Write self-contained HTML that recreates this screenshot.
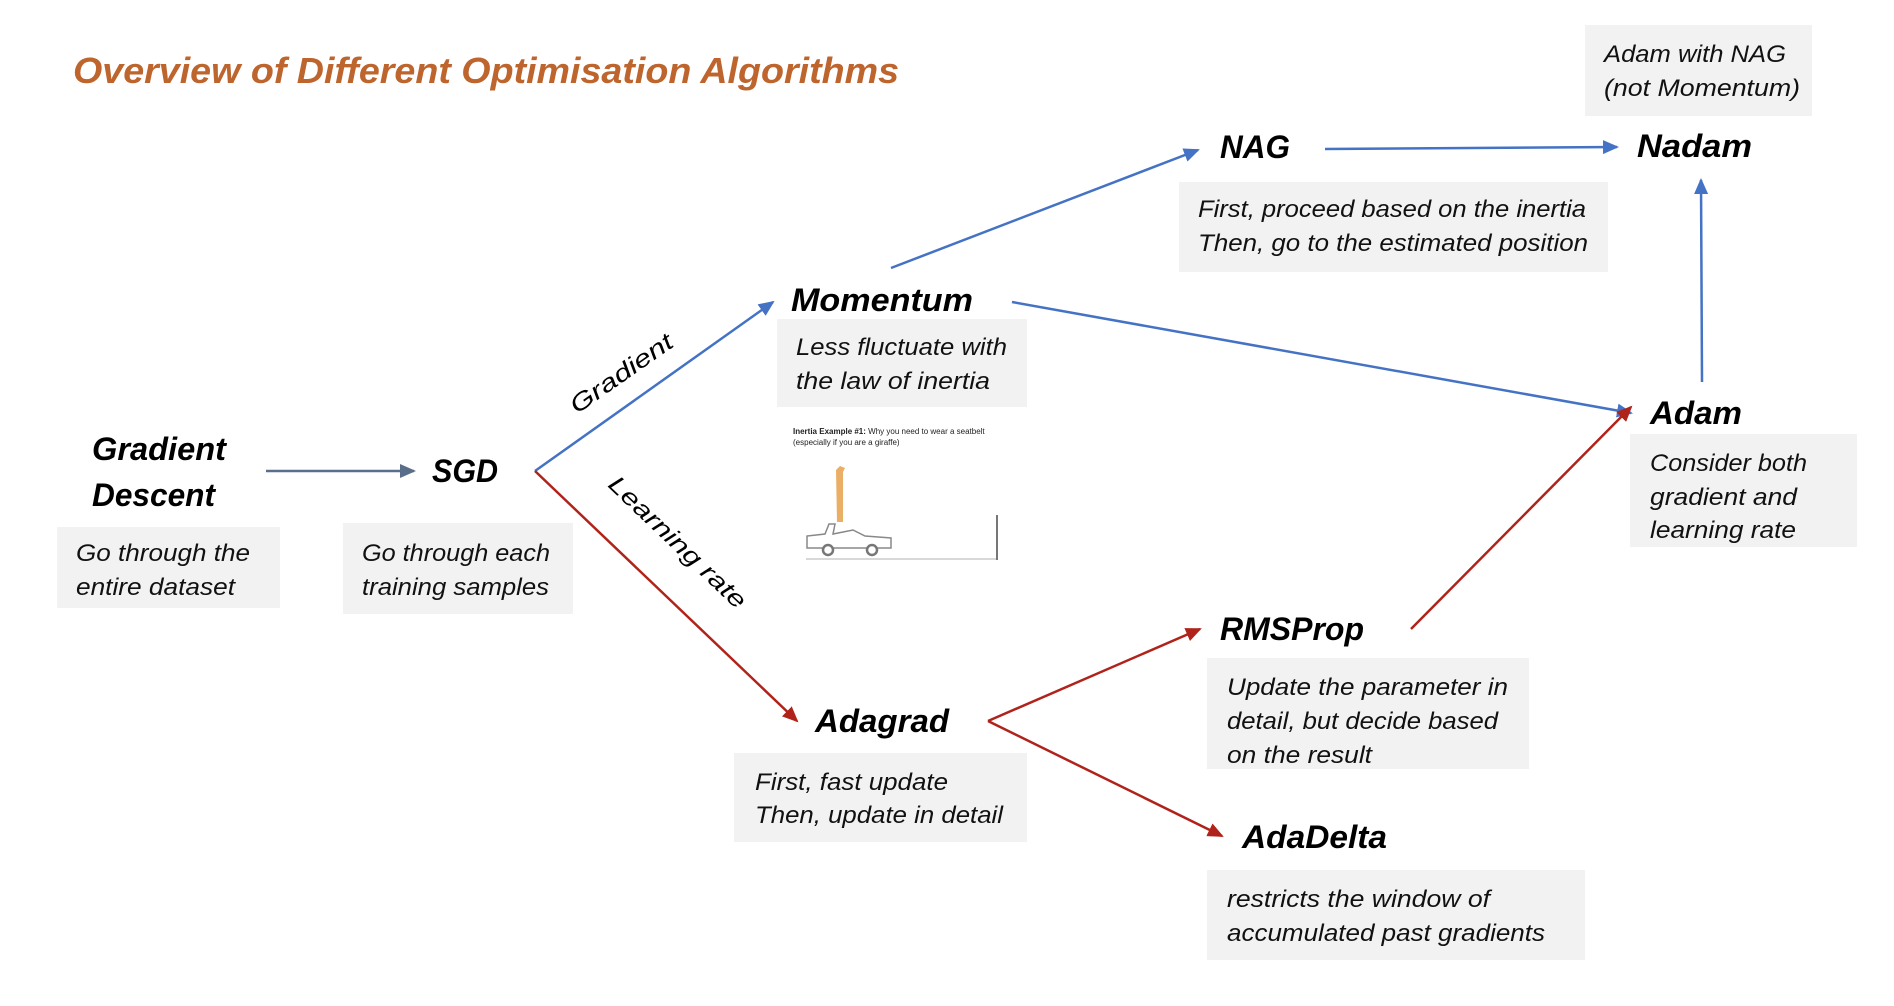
<!DOCTYPE html>
<html><head><meta charset="utf-8"><style>
html,body{margin:0;padding:0;background:#fff;width:1894px;height:1006px;overflow:hidden}
svg{display:block}
.t{font-family:"Liberation Sans",sans-serif;font-style:italic;font-weight:bold;font-size:32px;fill:#000}
.b{font-family:"Liberation Sans",sans-serif;font-style:italic;font-size:24px;fill:#111}
.box{fill:#f2f2f2}
</style></head><body>
<svg width="1894" height="1006" viewBox="0 0 1894 1006" xmlns="http://www.w3.org/2000/svg">
<defs>
<marker id="ab" markerWidth="16" markerHeight="14" refX="14" refY="7" orient="auto" markerUnits="userSpaceOnUse" viewBox="0 0 16 14"><path d="M0,0 L16,7 L0,14 z" fill="#4472C4"/></marker>
<marker id="ar" markerWidth="16" markerHeight="14" refX="14" refY="7" orient="auto" markerUnits="userSpaceOnUse" viewBox="0 0 16 14"><path d="M0,0 L16,7 L0,14 z" fill="#B0231A"/></marker>
<marker id="ag" markerWidth="16" markerHeight="14" refX="14" refY="7" orient="auto" markerUnits="userSpaceOnUse" viewBox="0 0 16 14"><path d="M0,0 L16,7 L0,14 z" fill="#5A6E8C"/></marker>
</defs>
<rect width="1894" height="1006" fill="#fff"/>
<text x="73" y="83" font-family="Liberation Sans,sans-serif" font-style="italic" font-weight="bold" font-size="36" fill="#BE642D" textLength="826" lengthAdjust="spacingAndGlyphs">Overview of Different Optimisation Algorithms</text>

<rect class="box" x="57" y="527" width="223" height="81"/>
<rect class="box" x="343" y="523" width="230" height="91"/>
<rect class="box" x="777" y="319" width="250" height="88"/>
<rect class="box" x="1179" y="182" width="429" height="90"/>
<rect class="box" x="1585" y="25" width="227" height="91"/>
<rect class="box" x="1630" y="434" width="227" height="113"/>
<rect class="box" x="734" y="753" width="293" height="89"/>
<rect class="box" x="1207" y="658" width="322" height="111"/>
<rect class="box" x="1207" y="870" width="378" height="90"/>

<g fill="none" stroke-width="2.5">
<line x1="266" y1="471" x2="414" y2="471" stroke="#5A6E8C" marker-end="url(#ag)"/>
<line x1="535" y1="471" x2="773" y2="302" stroke="#4472C4" marker-end="url(#ab)"/>
<line x1="535" y1="471" x2="797" y2="721" stroke="#B0231A" marker-end="url(#ar)"/>
<line x1="891" y1="268" x2="1198" y2="150" stroke="#4472C4" marker-end="url(#ab)"/>
<line x1="1325" y1="149" x2="1617" y2="147" stroke="#4472C4" marker-end="url(#ab)"/>
<line x1="1702" y1="382" x2="1701" y2="180" stroke="#4472C4" marker-end="url(#ab)"/>
<line x1="1012" y1="302" x2="1631" y2="413" stroke="#4472C4" marker-end="url(#ab)"/>
<line x1="1411" y1="629" x2="1631" y2="407" stroke="#B0231A" marker-end="url(#ar)"/>
<line x1="988" y1="721" x2="1200" y2="629" stroke="#B0231A" marker-end="url(#ar)"/>
<line x1="988" y1="721" x2="1222" y2="836" stroke="#B0231A" marker-end="url(#ar)"/>
</g>

<text transform="translate(626,380) rotate(-35)" text-anchor="middle" font-family="Liberation Sans,sans-serif" font-style="italic" font-size="24" textLength="120" lengthAdjust="spacingAndGlyphs">Gradient</text>
<text transform="translate(672,548) rotate(43.6)" text-anchor="middle" font-family="Liberation Sans,sans-serif" font-style="italic" font-size="24" textLength="180" lengthAdjust="spacingAndGlyphs">Learning rate</text>

<text class="t" x="92" y="460" textLength="134" lengthAdjust="spacingAndGlyphs">Gradient</text>
<text class="t" x="92" y="506" textLength="123" lengthAdjust="spacingAndGlyphs">Descent</text>
<text class="t" x="432" y="482" textLength="66" lengthAdjust="spacingAndGlyphs">SGD</text>
<text class="t" x="791" y="311" textLength="182" lengthAdjust="spacingAndGlyphs">Momentum</text>
<text class="t" x="1220" y="158" textLength="70" lengthAdjust="spacingAndGlyphs">NAG</text>
<text class="t" x="1637" y="157" textLength="115" lengthAdjust="spacingAndGlyphs">Nadam</text>
<text class="t" x="1650" y="424" textLength="92" lengthAdjust="spacingAndGlyphs">Adam</text>
<text class="t" x="815" y="732" textLength="134" lengthAdjust="spacingAndGlyphs">Adagrad</text>
<text class="t" x="1220" y="640" textLength="144" lengthAdjust="spacingAndGlyphs">RMSProp</text>
<text class="t" x="1242" y="848" textLength="145" lengthAdjust="spacingAndGlyphs">AdaDelta</text>

<text class="b" x="76" y="561" textLength="174" lengthAdjust="spacingAndGlyphs">Go through the</text>
<text class="b" x="76" y="595" textLength="159" lengthAdjust="spacingAndGlyphs">entire dataset</text>
<text class="b" x="362" y="561" textLength="188" lengthAdjust="spacingAndGlyphs">Go through each</text>
<text class="b" x="362" y="595" textLength="187" lengthAdjust="spacingAndGlyphs">training samples</text>
<text class="b" x="796" y="355" textLength="211" lengthAdjust="spacingAndGlyphs">Less fluctuate with</text>
<text class="b" x="796" y="389" textLength="194" lengthAdjust="spacingAndGlyphs">the law of inertia</text>
<text class="b" x="1198" y="217" textLength="388" lengthAdjust="spacingAndGlyphs">First, proceed based on the inertia</text>
<text class="b" x="1198" y="251" textLength="390" lengthAdjust="spacingAndGlyphs">Then, go to the estimated position</text>
<text class="b" x="1604" y="62" textLength="182" lengthAdjust="spacingAndGlyphs">Adam with NAG</text>
<text class="b" x="1604" y="96" textLength="196" lengthAdjust="spacingAndGlyphs">(not Momentum)</text>
<text class="b" x="1650" y="471" textLength="157" lengthAdjust="spacingAndGlyphs">Consider both</text>
<text class="b" x="1650" y="505" textLength="147" lengthAdjust="spacingAndGlyphs">gradient and</text>
<text class="b" x="1650" y="538" textLength="146" lengthAdjust="spacingAndGlyphs">learning rate</text>
<text class="b" x="755" y="790" textLength="193" lengthAdjust="spacingAndGlyphs">First, fast update</text>
<text class="b" x="755" y="823" textLength="248" lengthAdjust="spacingAndGlyphs">Then, update in detail</text>
<text class="b" x="1227" y="695" textLength="281" lengthAdjust="spacingAndGlyphs">Update the parameter in</text>
<text class="b" x="1227" y="729" textLength="271" lengthAdjust="spacingAndGlyphs">detail, but decide based</text>
<text class="b" x="1227" y="763" textLength="145" lengthAdjust="spacingAndGlyphs">on the result</text>
<text class="b" x="1227" y="907" textLength="263" lengthAdjust="spacingAndGlyphs">restricts the window of</text>
<text class="b" x="1227" y="941" textLength="318" lengthAdjust="spacingAndGlyphs">accumulated past gradients</text>

<g>
<text x="793" y="434" font-family="Liberation Sans,sans-serif" font-size="8" fill="#222"><tspan font-weight="bold">Inertia Example #1:</tspan> Why you need to wear a seatbelt</text>
<text x="793" y="445" font-family="Liberation Sans,sans-serif" font-size="8" fill="#222">(especially if you are a giraffe)</text>
<path d="M836,470 l4,-4 l5,2 l-2,4 l0,50 l-6,0 z" fill="#E8A04A" opacity="0.85"/>
<path d="M807,548 l0,-12 l18,-2 l4,-10 l6,0 l-2,10 l20,-4 l12,6 l26,2 l0,10 z" fill="#fff" stroke="#888" stroke-width="1.5"/>
<circle cx="828" cy="550" r="5" fill="#fff" stroke="#777" stroke-width="2.5"/>
<circle cx="872" cy="550" r="5" fill="#fff" stroke="#777" stroke-width="2.5"/>
<line x1="806" y1="559" x2="997" y2="559" stroke="#ccc" stroke-width="1.5"/>
<line x1="997" y1="515" x2="997" y2="560" stroke="#777" stroke-width="2"/>
</g>
</svg>
</body></html>
